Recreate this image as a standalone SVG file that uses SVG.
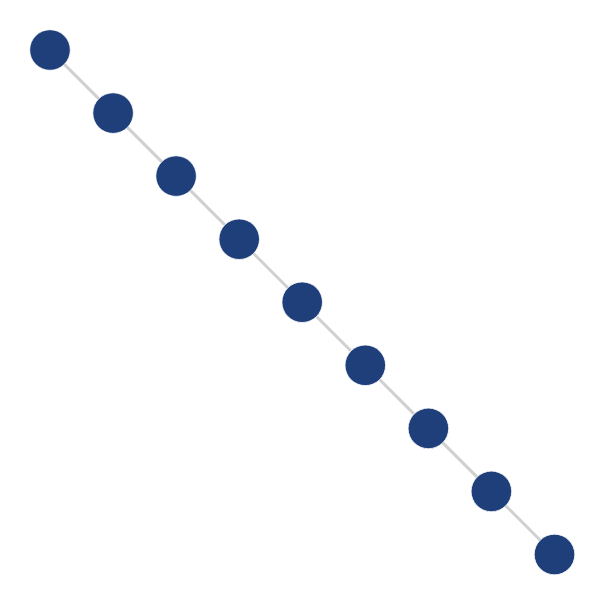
<svg xmlns="http://www.w3.org/2000/svg" width="605" height="605" viewBox="0 0 605 605">
<style>
.edge{stroke:#d0d0d0;stroke-width:3}
.node{fill:#1f3f7b;stroke:#ffffff;stroke-width:0.8}
</style>
<rect width="605" height="605" fill="#ffffff"/>
<g id="edges">
<line class="edge" x1="50" y1="50" x2="113.1" y2="113.1"/>
<line class="edge" x1="113.1" y1="113.1" x2="176.1" y2="176.1"/>
<line class="edge" x1="176.1" y1="176.1" x2="239.2" y2="239.2"/>
<line class="edge" x1="239.2" y1="239.2" x2="302.2" y2="302.2"/>
<line class="edge" x1="302.2" y1="302.2" x2="365.3" y2="365.3"/>
<line class="edge" x1="365.3" y1="365.3" x2="428.4" y2="428.4"/>
<line class="edge" x1="428.4" y1="428.4" x2="491.4" y2="491.4"/>
<line class="edge" x1="491.4" y1="491.4" x2="554.5" y2="554.5"/>
</g>
<g id="n0"><circle class="node" cx="50" cy="50" r="20.3"/></g>
<g id="n1"><circle class="node" cx="113.1" cy="113.1" r="20.3"/></g>
<g id="n2"><circle class="node" cx="176.1" cy="176.1" r="20.3"/></g>
<g id="n3"><circle class="node" cx="239.2" cy="239.2" r="20.3"/></g>
<g id="n4"><circle class="node" cx="302.2" cy="302.2" r="20.3"/></g>
<g id="n5"><circle class="node" cx="365.3" cy="365.3" r="20.3"/></g>
<g id="n6"><circle class="node" cx="428.4" cy="428.4" r="20.3"/></g>
<g id="n7"><circle class="node" cx="491.4" cy="491.4" r="20.3"/></g>
<g id="n8"><circle class="node" cx="554.5" cy="554.5" r="20.3"/></g>
</svg>
